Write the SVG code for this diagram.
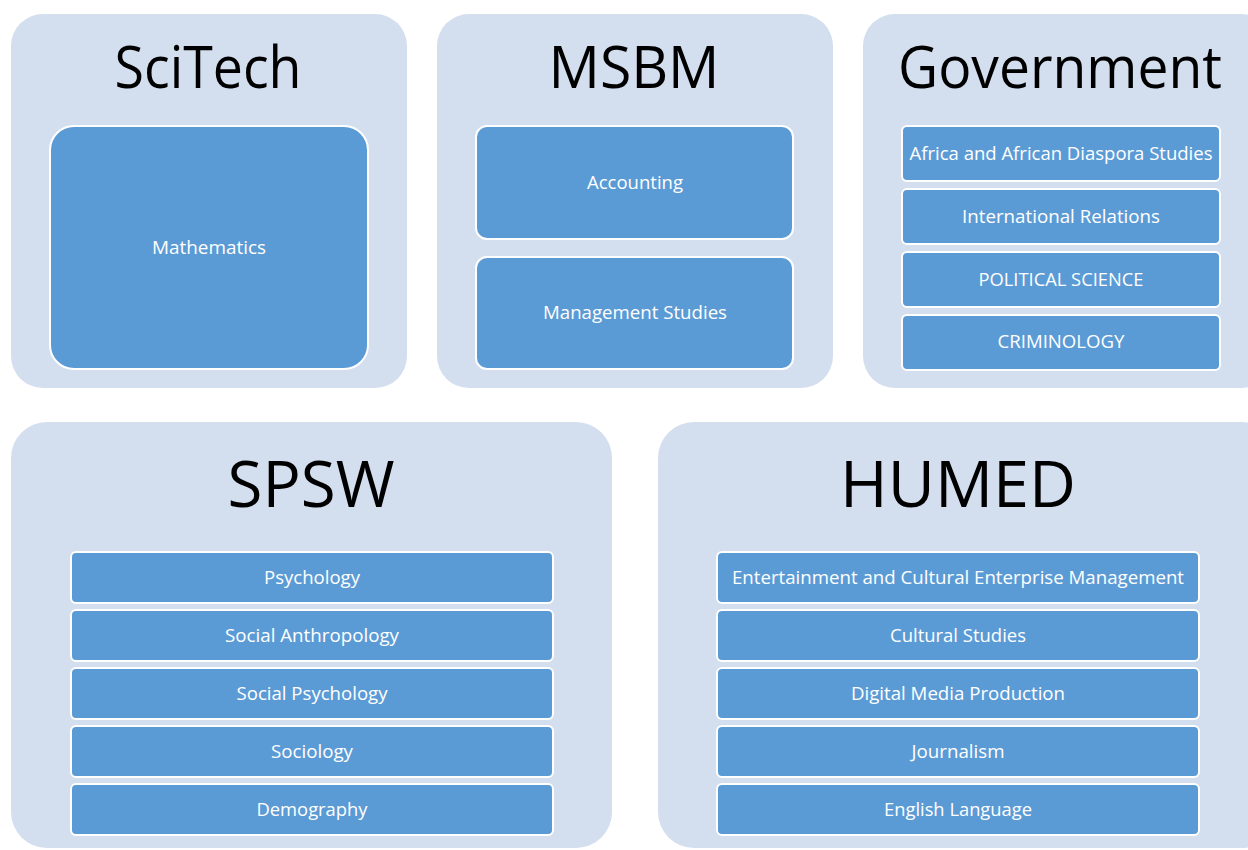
<svg xmlns="http://www.w3.org/2000/svg" width="1248" height="850" viewBox="0 0 1248 850">
<style>
.outer{fill:#D3DEEF;}
.inner{fill:#5B9BD5;stroke:#FFFFFF;stroke-width:2;}
.title{font-family:"Open Sans","Noto Sans",sans-serif;fill:#000000;text-anchor:middle;}
.t1{font-size:58px;}
.t2{font-size:64px;}
.lbl{font-family:"Open Sans","Noto Sans",sans-serif;font-size:18px;fill:#FFFFFF;text-anchor:middle;}
</style>
<rect width="1248" height="850" fill="#FFFFFF"/>
<g id="scitech">
<rect class="outer" x="11" y="14" width="396" height="374" rx="32"/>
<text class="title t1" x="208" y="88" textLength="187" lengthAdjust="spacingAndGlyphs">SciTech</text>
<g id="mathematics"><rect class="inner" x="50" y="126" width="318" height="243" rx="24"/>
<text class="lbl" x="209" y="254" textLength="114" lengthAdjust="spacingAndGlyphs">Mathematics</text></g>
</g>
<g id="msbm">
<rect class="outer" x="437" y="14" width="396" height="374" rx="32"/>
<text class="title t1" x="634" y="88" textLength="171" lengthAdjust="spacingAndGlyphs">MSBM</text>
<g id="accounting"><rect class="inner" x="476" y="126" width="317" height="113" rx="11"/>
<text class="lbl" x="635" y="189" textLength="96" lengthAdjust="spacingAndGlyphs">Accounting</text></g>
<g id="management-studies"><rect class="inner" x="476" y="257" width="317" height="112" rx="11"/>
<text class="lbl" x="635" y="319" textLength="184" lengthAdjust="spacingAndGlyphs">Management Studies</text></g>
</g>
<g id="government">
<rect class="outer" x="863" y="14" width="410" height="374" rx="32"/>
<text class="title t1" x="1060" y="88" textLength="324" lengthAdjust="spacingAndGlyphs">Government</text>
<g id="africa"><rect class="inner" x="902" y="126" width="318" height="55" rx="5"/>
<text class="lbl" x="1061" y="160" textLength="303" lengthAdjust="spacingAndGlyphs">Africa and African Diaspora Studies</text></g>
<g id="intl-relations"><rect class="inner" x="902" y="189" width="318" height="55" rx="5"/>
<text class="lbl" x="1061" y="223" textLength="198" lengthAdjust="spacingAndGlyphs">International Relations</text></g>
<g id="political-science"><rect class="inner" x="902" y="252" width="318" height="55" rx="5"/>
<text class="lbl" x="1061" y="286" textLength="165" lengthAdjust="spacingAndGlyphs">POLITICAL SCIENCE</text></g>
<g id="criminology"><rect class="inner" x="902" y="315" width="318" height="55" rx="5"/>
<text class="lbl" x="1061" y="348" textLength="127" lengthAdjust="spacingAndGlyphs">CRIMINOLOGY</text></g>
</g>
<g id="spsw">
<rect class="outer" x="11" y="422" width="601" height="426" rx="36"/>
<text class="title t2" x="311" y="507" textLength="167" lengthAdjust="spacingAndGlyphs">SPSW</text>
<g id="psychology"><rect class="inner" x="71" y="552" width="482" height="51" rx="5"/>
<text class="lbl" x="312" y="584" textLength="96" lengthAdjust="spacingAndGlyphs">Psychology</text></g>
<g id="social-anthropology"><rect class="inner" x="71" y="610" width="482" height="51" rx="5"/>
<text class="lbl" x="312" y="642" textLength="174" lengthAdjust="spacingAndGlyphs">Social Anthropology</text></g>
<g id="social-psychology"><rect class="inner" x="71" y="668" width="482" height="51" rx="5"/>
<text class="lbl" x="312" y="700" textLength="151" lengthAdjust="spacingAndGlyphs">Social Psychology</text></g>
<g id="sociology"><rect class="inner" x="71" y="726" width="482" height="51" rx="5"/>
<text class="lbl" x="312" y="758" textLength="82" lengthAdjust="spacingAndGlyphs">Sociology</text></g>
<g id="demography"><rect class="inner" x="71" y="784" width="482" height="51" rx="5"/>
<text class="lbl" x="312" y="816" textLength="111" lengthAdjust="spacingAndGlyphs">Demography</text></g>
</g>
<g id="humed">
<rect class="outer" x="658" y="422" width="620" height="426" rx="36"/>
<text class="title t2" x="958" y="507" textLength="236" lengthAdjust="spacingAndGlyphs">HUMED</text>
<g id="entertainment"><rect class="inner" x="717" y="552" width="482" height="51" rx="5"/>
<text class="lbl" x="958" y="584" textLength="452" lengthAdjust="spacingAndGlyphs">Entertainment and Cultural Enterprise Management</text></g>
<g id="cultural-studies"><rect class="inner" x="717" y="610" width="482" height="51" rx="5"/>
<text class="lbl" x="958" y="642" textLength="136" lengthAdjust="spacingAndGlyphs">Cultural Studies</text></g>
<g id="digital-media"><rect class="inner" x="717" y="668" width="482" height="51" rx="5"/>
<text class="lbl" x="958" y="700" textLength="214" lengthAdjust="spacingAndGlyphs">Digital Media Production</text></g>
<g id="journalism"><rect class="inner" x="717" y="726" width="482" height="51" rx="5"/>
<text class="lbl" x="958" y="758" textLength="93" lengthAdjust="spacingAndGlyphs">Journalism</text></g>
<g id="english-language"><rect class="inner" x="717" y="784" width="482" height="51" rx="5"/>
<text class="lbl" x="958" y="816" textLength="148" lengthAdjust="spacingAndGlyphs">English Language</text></g>
</g>
</svg>
